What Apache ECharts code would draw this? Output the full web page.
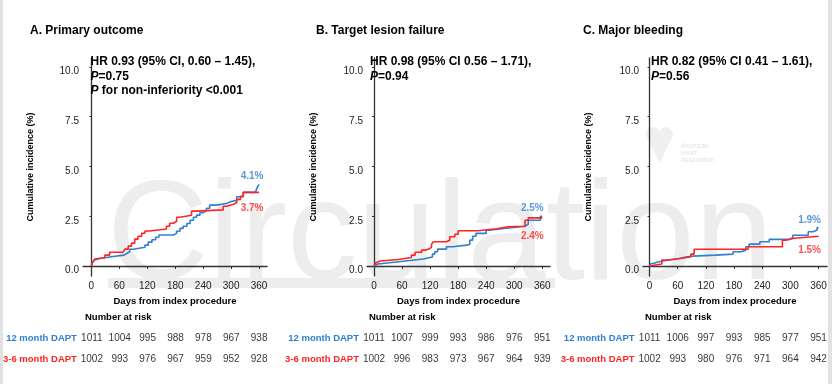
<!DOCTYPE html>
<html><head><meta charset="utf-8">
<script src="https://cdn.jsdelivr.net/npm/echarts@6/dist/echarts.min.js"></script>
<style>html,body{margin:0;padding:0;background:#fff}#c{width:832px;height:384px}</style>
</head><body><div id="c"></div>
<script>
// ---------- data ----------
const dayTicks = [0, 60, 120, 180, 240, 300, 360];
const yTicks = [0, 2.5, 5, 7.5, 10];
const groups = ['12 month DAPT', '3-6 month DAPT'];
const panelTitles = ['A. Primary outcome', 'B. Target lesion failure', 'C. Major bleeding'];

const blueA = [[0,0],[2,0.2],[4,0.3],[7,0.38],[18,0.47],[43,0.55],[70,0.62],[75,0.72],[82,0.84],[90,0.94],[115,1.05],[122,1.2],[130,1.32],[138,1.45],[145,1.56],[176,1.64],[183,1.75],[190,1.89],[197,2.0],[205,2.14],[212,2.3],[219,2.45],[226,2.56],[233,2.68],[240,2.78],[247,2.9],[254,3.06],[268,3.14],[290,3.24],[300,3.3],[312,3.48],[326,3.7],[352,3.8],[356,3.95],[360,4.1]];
const redA = [[0,0],[3,0.2],[7,0.35],[11,0.42],[29,0.55],[39,0.69],[68,0.75],[72,0.85],[79,1.0],[86,1.15],[93,1.35],[100,1.5],[108,1.65],[115,1.76],[125,1.86],[161,2.0],[168,2.15],[176,2.25],[183,2.45],[190,2.55],[215,2.76],[225,2.82],[283,3.0],[290,3.1],[305,3.18],[312,3.35],[320,3.5],[326,3.7],[360,3.7]];

const blueB = [[0,0],[4,0.1],[8,0.2],[48,0.28],[77,0.35],[105,0.45],[125,0.6],[130,0.72],[136,0.85],[155,0.97],[169,1.05],[198,1.1],[205,1.3],[211,1.5],[218,1.64],[240,1.8],[247,1.9],[283,2.0],[323,2.1],[330,2.3],[356,2.5],[360,2.5]];
const redB = [[0,0],[3,0.15],[7,0.25],[13,0.33],[52,0.43],[80,0.55],[88,0.69],[102,0.8],[109,0.84],[116,0.94],[123,1.1],[127,1.22],[155,1.3],[162,1.47],[173,1.6],[180,1.77],[222,1.87],[262,1.97],[287,2.0],[323,2.3],[330,2.42],[360,2.42]];

const blueC = [[0,0],[3,0.13],[8,0.2],[18,0.3],[40,0.38],[62,0.47],[80,0.5],[93,0.55],[140,0.6],[178,0.72],[195,0.8],[205,0.97],[212,1.1],[235,1.22],[255,1.34],[298,1.44],[305,1.55],[338,1.72],[348,1.81],[357,1.93],[360,1.93]];
const redC = [[0,0],[3,0.1],[26,0.3],[40,0.38],[66,0.47],[88,0.6],[95,0.84],[210,0.97],[283,1.3],[290,1.4],[308,1.5],[360,1.5]];

const riskA12 = [1011, 1004, 995, 988, 978, 967, 938];
const riskA36 = [1002, 993, 976, 967, 959, 952, 928];
const riskB12 = [1011, 1007, 999, 993, 986, 976, 951];
const riskB36 = [1002, 996, 983, 973, 967, 964, 939];
const riskC12 = [1011, 1006, 997, 993, 985, 977, 951];
const riskC36 = [1002, 993, 980, 976, 971, 964, 942];

const hrTexts = [
  '{b|HR 0.93 (95% CI, 0.60 \u2013 1.45),}\n{i|P}{b|=0.75}\n{i|P}{b| for non-inferiority <0.001}',
  '{b|HR 0.98 (95% CI 0.56 \u2013 1.71),}\n{i|P}{b|=0.94}',
  '{b|HR 0.82 (95% CI 0.41 \u2013 1.61),}\n{i|P}{b|=0.56}'
];

// ---------- layout / style ----------
const BLUE = '#2f80d1', RED = '#ff2424', AX = '#333';
const FONT = 'Liberation Sans, Arial, sans-serif';
const panels = [
  {left: 83, width: 184, xmin: -18, xmax: 377, blue: blueA, red: redA, r12: riskA12, r36: riskA36, titleX: 30, hrX: 90.5, nameGap: 48, bOff: [-7, -8], rOff: [-7, 16]},
  {left: 367, width: 183, xmin: -15, xmax: 376.5, blue: blueB, red: redB, r12: riskB12, r36: riskB36, titleX: 316, hrX: 370, nameGap: 49, bOff: [-10, -8.5], rOff: [-10, 18]},
  {left: 643, width: 184, xmin: -14, xmax: 378, blue: blueC, red: redC, r12: riskC12, r36: riskC36, titleX: 583, hrX: 651, nameGap: 50, bOff: [-9, -7.5], rOff: [-9, 14]}
];

const grid = [], xAxis = [], yAxis = [], series = [], title = [];
panels.forEach((p, k) => {
  grid.push({left: p.left, width: p.width, top: 58, height: 218});
  xAxis.push({
    type: 'value', gridIndex: 2 * k, min: p.xmin, max: p.xmax,
    axisLine: {show: true, lineStyle: {color: AX, width: 1.3}},
    axisTick: {show: true, length: 3, customValues: dayTicks, lineStyle: {color: AX}},
    axisLabel: {customValues: dayTicks, fontSize: 10, color: '#222', margin: 5, fontFamily: FONT},
    splitLine: {show: false},
    name: 'Days from index procedure', nameLocation: 'middle', nameGap: 17,
    nameTextStyle: {fontSize: 9.5, fontWeight: 'bold', color: '#000', fontFamily: FONT}
  });
  yAxis.push({
    type: 'value', gridIndex: 2 * k, min: -0.5, max: 10.45,
    axisLine: {show: true, lineStyle: {color: AX, width: 1.3}},
    axisTick: {show: true, length: 2, customValues: yTicks, lineStyle: {color: AX}},
    axisLabel: {customValues: yTicks, formatter: v => Number(v).toFixed(1), fontSize: 10, color: '#222', margin: 4, fontFamily: FONT,
      verticalAlign: 'top', lineHeight: 9},
    splitLine: {show: false},
    name: 'Cumulative incidence (%)', nameLocation: 'middle', nameGap: p.nameGap, nameRotate: 90,
    nameTextStyle: {fontSize: 9, fontWeight: 'bold', color: '#000', fontFamily: FONT}
  });
  const zeroPx = p.left + (-p.xmin) * p.width / (p.xmax - p.xmin);
  grid.push({left: p.left, width: p.width, top: 328, height: 42});
  xAxis.push({type: 'value', gridIndex: 2 * k + 1, min: p.xmin, max: p.xmax, show: false});
  yAxis.push({
    type: 'category', gridIndex: 2 * k + 1, data: groups, inverse: true,
    axisLine: {show: false}, axisTick: {show: false}, splitLine: {show: false},
    axisLabel: {
      margin: p.left - (zeroPx - 15), fontSize: 9.5, fontWeight: 'bold', fontFamily: FONT,
      color: (v, i) => (v === groups[0]) ? BLUE : RED
    }
  });
  [[p.blue, BLUE, groups[0], p.bOff], [p.red, RED, groups[1], p.rOff]].forEach(([d, c, nm, off]) => {
    series.push({
      type: 'line', name: nm, xAxisIndex: 2 * k, yAxisIndex: 2 * k, data: d, step: 'end',
      symbol: 'none', lineStyle: {color: c, width: 1.6}, z: 3, silent: true
    });
    const last = d[d.length - 1];
    series.push({
      type: 'scatter', xAxisIndex: 2 * k, yAxisIndex: 2 * k, data: [last], symbolSize: 0, silent: true,
      label: {show: true, position: 'inside', offset: off, formatter: q => q.value[1].toFixed(1) + '%',
        color: c, fontSize: 10, fontWeight: 'bold', fontFamily: FONT}, z: 4
    });
  });
  [p.r12, p.r36].forEach((arr, row) => {
    series.push({
      type: 'scatter', xAxisIndex: 2 * k + 1, yAxisIndex: 2 * k + 1, symbolSize: 0, silent: true,
      data: dayTicks.map((d, i) => [d, row, arr[i]]),
      label: {show: true, position: 'inside', formatter: q => String(q.value[2]), color: '#000', fontSize: 10, fontFamily: FONT}
    });
  });
  title.push({text: panelTitles[k], left: p.titleX, top: 25, textStyle: {fontSize: 12, fontWeight: 'bold', color: '#000', fontFamily: FONT}, padding: 0});
  title.push({text: hrTexts[k], left: p.hrX, top: 54.5, padding: 0, textStyle: {
    fontFamily: FONT, rich: {
      b: {fontSize: 12, fontWeight: 'bold', color: '#000', lineHeight: 14.5, fontFamily: FONT},
      i: {fontSize: 12, fontWeight: 'bold', fontStyle: 'italic', color: '#000', lineHeight: 14.5, fontFamily: FONT}
    }}});
  title.push({text: 'Number at risk', left: p.left + 2, top: 312, padding: 0, textStyle: {fontSize: 9.5, fontWeight: 'bold', color: '#000', fontFamily: FONT}});
});

const graphic = [
  {type: 'rect', shape: {x: 0, y: 0, width: 3, height: 384}, style: {fill: '#e2e2e2'}, z: -10, silent: true},
  {type: 'rect', shape: {x: 828, y: 0, width: 4, height: 384}, style: {fill: '#e2e2e2'}, z: -10, silent: true},
  {type: 'rect', shape: {x: 108, y: 278, width: 447, height: 10}, style: {fill: '#ededed'}, z: -10, silent: true},
  {type: 'text', x: 107, y: 240, z: -10, silent: true,
   style: {text: 'Circulation', font: '141px "Liberation Sans", Arial, sans-serif', fill: '#ededed', verticalAlign: 'middle', align: 'left'}},
  {type: 'circle', shape: {cx: 653, cy: 134, r: 7}, style: {fill: '#efefef'}, z: -10, silent: true},
  {type: 'circle', shape: {cx: 666, cy: 134, r: 7}, style: {fill: '#efefef'}, z: -10, silent: true},
  {type: 'polygon', shape: {points: [[646.5, 137], [672.5, 137], [659.5, 163]]}, style: {fill: '#efefef'}, z: -10, silent: true},
  {type: 'text', x: 681, y: 143, z: -10, silent: true,
   style: {text: 'American\nHeart\nAssociation.', font: '6.5px "Liberation Sans", Arial, sans-serif', fill: '#e2e2e2', lineHeight: 7}}
];

const chart = echarts.init(document.getElementById('c'), null, {renderer: 'canvas'});
chart.setOption({
  backgroundColor: '#fff', animation: false,
  title, grid, xAxis, yAxis, series, graphic
});
</script></body></html>
